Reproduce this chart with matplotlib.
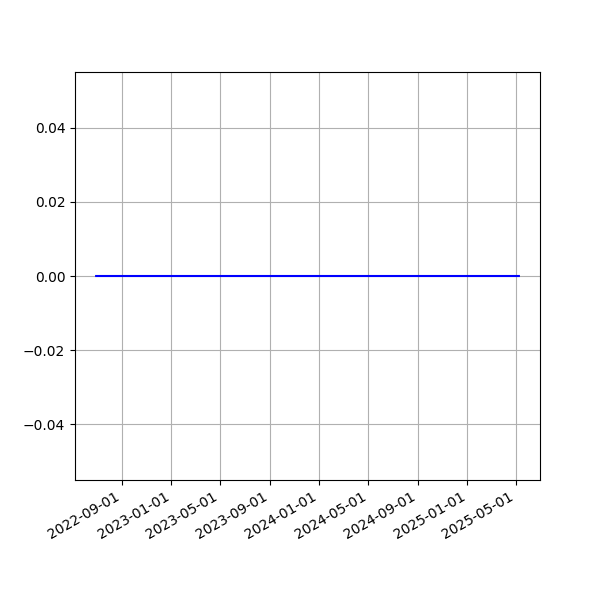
import matplotlib
matplotlib.use("Agg")
import matplotlib.pyplot as plt
import matplotlib.dates as mdates
import pandas as pd

start_date = "2022-06-29"
end_date = "2025-05-08"
dates = pd.date_range(start_date, end_date, freq="D")
values = [0.0] * len(dates)

fig, ax = plt.subplots(figsize=(6, 6), dpi=100)
ax.plot(dates, values, color="blue")
ax.grid(True)
ax.xaxis.set_major_locator(mdates.MonthLocator(bymonth=[1, 5, 9], bymonthday=1))
ax.xaxis.set_major_formatter(mdates.DateFormatter("%Y-%m-%d"))
fig.autofmt_xdate()
fig.savefig("out.png")
